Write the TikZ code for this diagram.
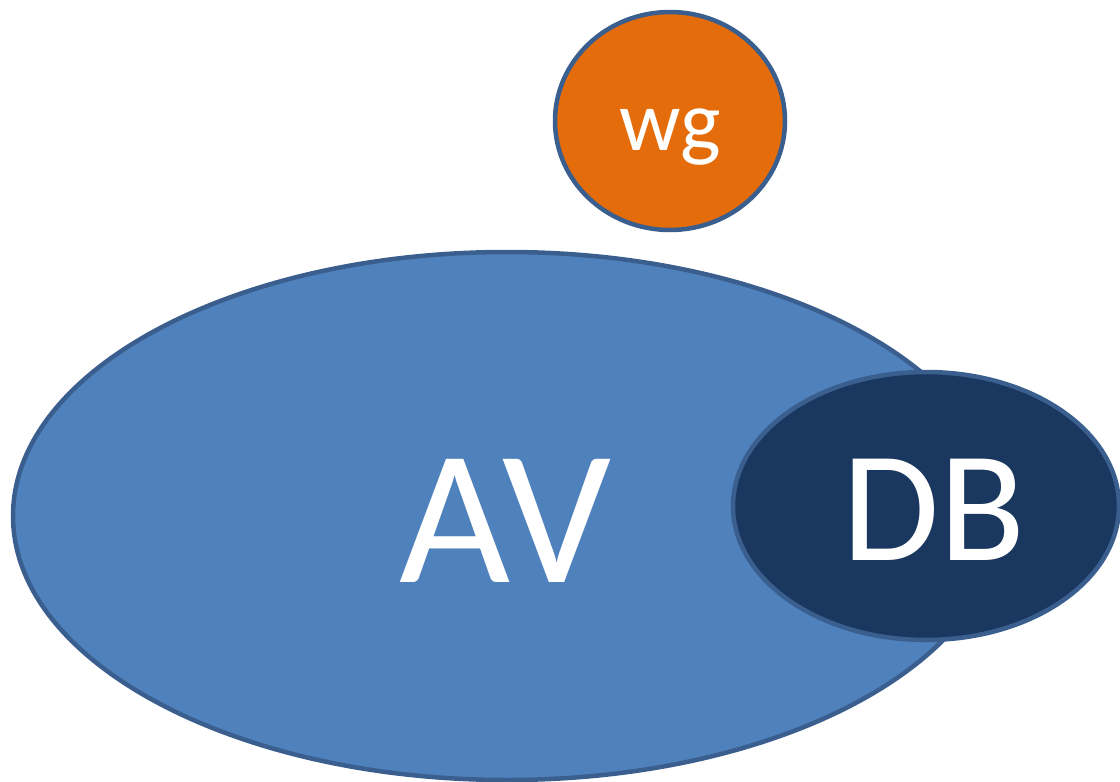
\documentclass[tikz,border=0pt]{standalone}
\usepackage{fontspec}
\setmainfont{Carlito}
\usetikzlibrary{shapes.geometric}
\definecolor{avfill}{HTML}{4F81BD}
\definecolor{dbfill}{HTML}{1A375F}
\definecolor{wgfill}{HTML}{E46C0A}
\definecolor{edge}{HTML}{3A5F8E}
\tikzset{
  blob/.style={ellipse, draw=edge, line width=4.5pt, inner sep=0pt, outer sep=0pt},
  lbl/.style={text=white, anchor=base, inner sep=0pt}
}
\begin{document}
\begin{tikzpicture}[x=1pt,y=-1pt]
\useasboundingbox (0,0) rectangle (1120,782);
\node[blob, fill=avfill, minimum width=988pt, minimum height=528pt] (av) at (507,516) {};
\node[blob, fill=dbfill, minimum width=386pt, minimum height=268pt] (db) at (926,506) {};
\node[blob, fill=wgfill, minimum width=230pt, minimum height=218pt] (wg) at (670,121) {};
\node[lbl, font=\fontsize{192}{192}\selectfont] (avt) at (505,582) {AV};
\node[lbl, font=\fontsize{158}{158}\selectfont] (dbt) at (934,560) {DB};
\node[lbl, font=\fontsize{86}{86}\selectfont] (wgt) at (670,150) {wg};
\end{tikzpicture}
\end{document}
